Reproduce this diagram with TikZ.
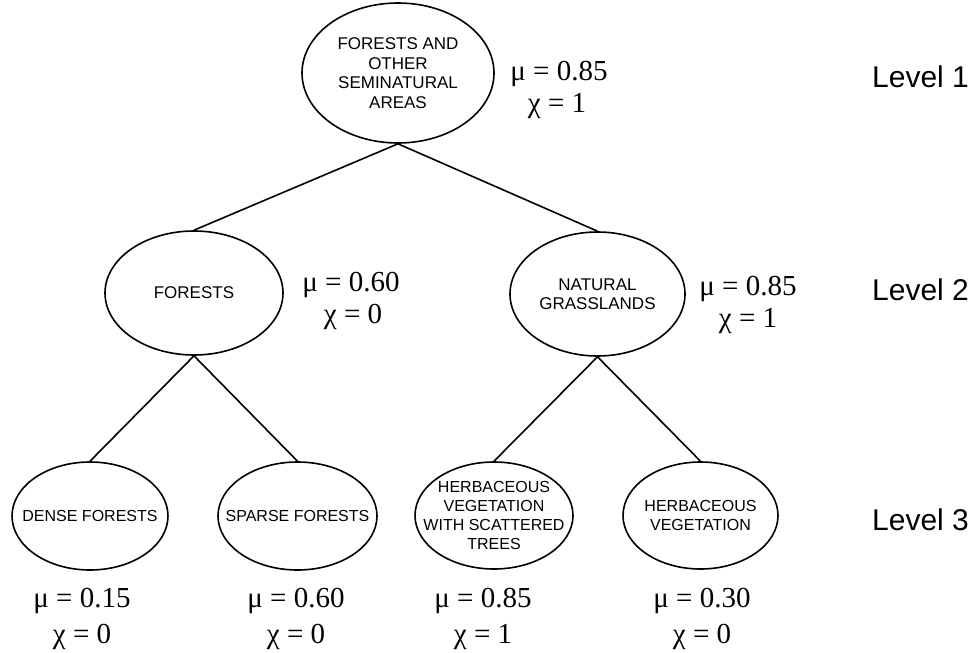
\documentclass[tikz,border=0pt]{standalone}
\usepackage{fontspec}
\setmainfont{Liberation Serif}
\newfontfamily\sansf{Liberation Sans}
\usetikzlibrary{shapes.geometric}
\begin{document}
\begin{tikzpicture}[x=1pt,y=-1pt,
  oval/.style={draw, ellipse, line width=1.6pt, inner sep=0pt},
  midtext/.style={align=center, inner sep=0pt, font=\sansf\fontsize{17}{19.5}\selectfont},
  lowtext/.style={align=center, inner sep=0pt, font=\sansf\fontsize{16}{19}\selectfont},
  val/.style={anchor=base, inner sep=0pt, font=\fontsize{29}{34}\selectfont},
  lvl/.style={anchor=base west, inner sep=0pt, font=\sansf\fontsize{30}{34}\selectfont},
  edge/.style={line width=1.6pt}
]
\useasboundingbox (0,0) rectangle (975,653);
% ellipses
\node[oval, minimum width=192pt, minimum height=140pt] (top) at (398,73) {};
\node[oval, minimum width=178pt, minimum height=124pt] (forests) at (194,293) {};
\node[oval, minimum width=175pt, minimum height=124pt] (grass) at (597.5,294) {};
\node[oval, minimum width=156pt, minimum height=108pt] (dense) at (90,516) {};
\node[oval, minimum width=159pt, minimum height=108pt] (sparse) at (297.5,516) {};
\node[oval, minimum width=158pt, minimum height=107pt] (herbt) at (494,515.5) {};
\node[oval, minimum width=155pt, minimum height=107pt] (herb) at (700.5,515.5) {};
% texts
\node[midtext] (topt) at (top.center) {FORESTS AND\\OTHER\\SEMINATURAL\\AREAS};
\node[midtext] (forestst) at (forests.center) {FORESTS};
\node[midtext] (grasst) at (grass.center) {NATURAL\\GRASSLANDS};
\node[lowtext] (denset) at (dense.center) {DENSE FORESTS};
\node[lowtext] (sparset) at (sparse.center) {SPARSE FORESTS};
\node[lowtext] (herbtt) at (herbt.center) {HERBACEOUS\\VEGETATION\\WITH SCATTERED\\TREES};
\node[lowtext] (herbt2) at (herb.center) {HERBACEOUS\\VEGETATION};
% connectors
\draw[edge] (top.south) -- (forests.north);
\draw[edge] (top.south) -- (grass.north);
\draw[edge] (forests.south) -- (dense.north);
\draw[edge] (forests.south) -- (sparse.north);
\draw[edge] (grass.south) -- (herbt.north);
\draw[edge] (grass.south) -- (herb.north);
% values
\node[val] (mu1) at (559,80) {μ = 0.85};
\node[val] (chi1) at (557,112) {χ = 1};
\node[val] (mu2) at (351,291) {μ = 0.60};
\node[val] (chi2) at (353,323) {χ = 0};
\node[val] (mu3) at (748,295) {μ = 0.85};
\node[val] (chi3) at (748,327) {χ = 1};
\node[val] (mu4) at (82,607) {μ = 0.15};
\node[val] (chi4) at (82,643) {χ = 0};
\node[val] (mu5) at (296,607) {μ = 0.60};
\node[val] (chi5) at (296,643) {χ = 0};
\node[val] (mu6) at (483,607) {μ = 0.85};
\node[val] (chi6) at (483,643) {χ = 1};
\node[val] (mu7) at (702,607) {μ = 0.30};
\node[val] (chi7) at (702,643) {χ = 0};
% levels
\node[lvl] (l1) at (872,87) {Level 1};
\node[lvl] (l2) at (872,300) {Level 2};
\node[lvl] (l3) at (872,530) {Level 3};
\end{tikzpicture}
\end{document}
